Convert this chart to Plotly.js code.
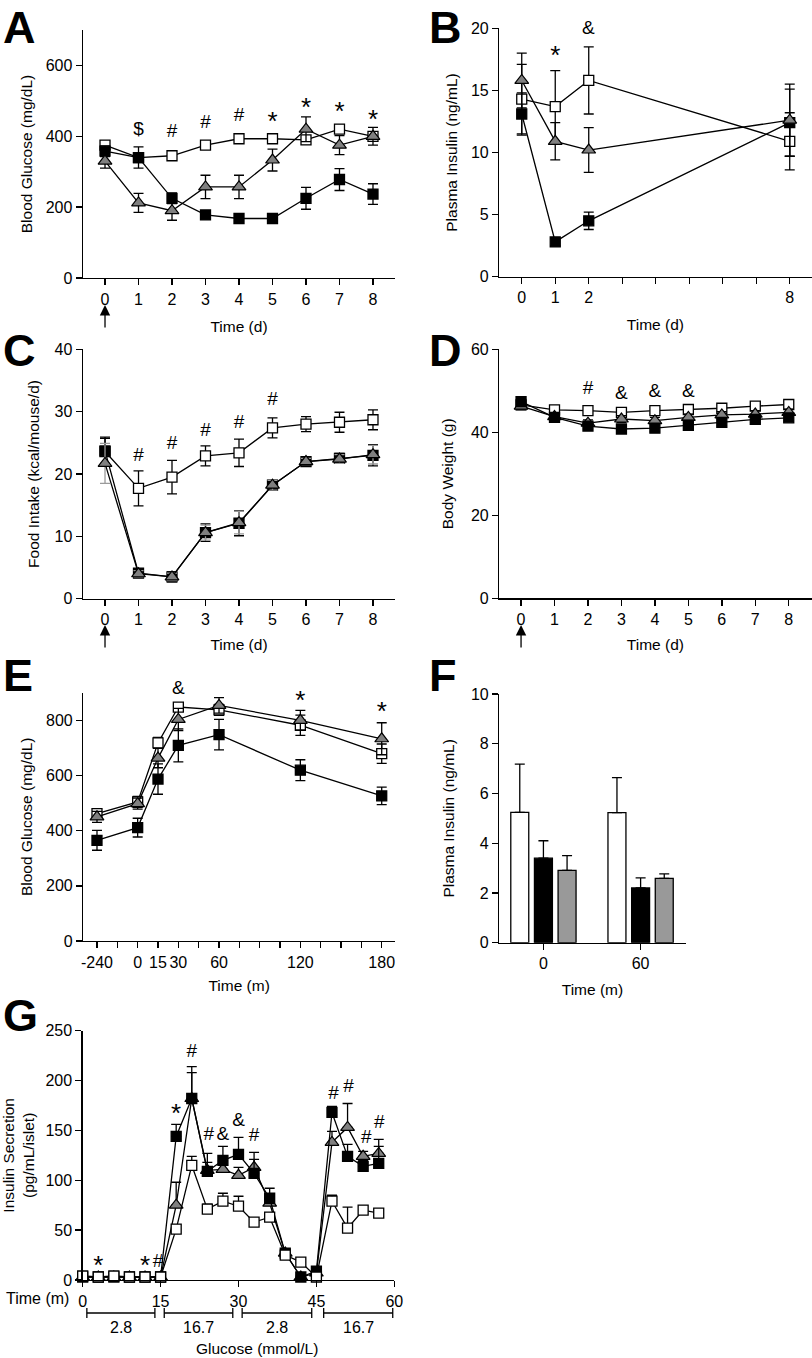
<!DOCTYPE html>
<html>
<head>
<meta charset="utf-8">
<script src="https://cdn.plot.ly/plotly-3.0.1.min.js"></script>
<style>html,body{margin:0;padding:0;background:#fff;}#chart{width:812px;height:1358px;}</style>
</head>
<body>
<div id="chart"></div>
<script>
// ---------- DATA ----------
// Panel A: blood glucose (mg/dL) by day
const daysA = [0, 1, 2, 3, 4, 5, 6, 7, 8];
const glucoseA_white = [375, 340, 345, 375, 393, 393, 390, 420, 400];
const glucoseA_whiteErr = [10, 10, 10, 10, 8, 8, 12, 12, 10];
const glucoseA_black = [358, 340, 225, 178, 168, 168, 225, 278, 237];
const glucoseA_blackErr = [15, 30, 15, 10, 8, 8, 31, 31, 29];
const glucoseA_gray = [330, 212, 190, 257, 257, 333, 420, 375, 400];
const glucoseA_grayErr = [20, 27, 27, 33, 33, 31, 35, 27, 25];
const sigA_x = [1, 2, 3, 4, 5, 6, 7, 8];
const sigA_y = [416, 411, 437, 457, 437, 476, 464, 443];
const sigA_t = ['$', '#', '#', '#', '*', '*', '*', '*'];

// Panel B: plasma insulin (ng/mL)
const daysB = [0, 1, 2, 8];
const insulinB_white = [14.3, 13.7, 15.8, 10.9];
const insulinB_whiteErr = [2.8, 2.9, 2.7, 2.3];
const insulinB_black = [13.1, 2.8, 4.5, 12.4];
const insulinB_blackErr = [1.7, 0.3, 0.7, 2.7];
const insulinB_gray = [15.8, 10.9, 10.2, 12.6];
const insulinB_grayErr = [2.2, 1.5, 1.8, 2.9];
const tickDaysB = [0, 1, 2, 3, 4, 5, 6, 7, 8];
const tickLabelsB = ['0', '1', '2', '', '', '', '', '', '8'];
const sigB_x = [1, 2];
const sigB_y = [17.66, 20.05];
const sigB_t = ['*', '&'];

// Panel C: food intake (kcal/mouse/d)
const daysC = [0, 1, 2, 3, 4, 5, 6, 7, 8];
const foodC_white = [23.6, 17.7, 19.5, 22.9, 23.4, 27.4, 28.0, 28.3, 28.7];
const foodC_whiteErr = [2.3, 2.8, 2.7, 1.6, 2.2, 1.6, 1.2, 1.6, 1.6];
const foodC_black = [23.7, 4.1, 3.5, 10.6, 12.1, 18.2, 22.0, 22.5, 23.0];
const foodC_blackErr = [2.0, 0.6, 0.8, 1.4, 2.0, 0.8, 0.5, 0.8, 1.7];
const foodC_gray = [21.7, 4.0, 3.5, 10.6, 12.2, 18.2, 22.0, 22.4, 23.1];
const foodC_grayErr = [3.2, 0.5, 0.6, 1.2, 1.8, 0.8, 0.5, 0.7, 1.5];
const sigC_x = [1, 2, 3, 4, 5];
const sigC_y = [22.9, 24.7, 26.8, 28.1, 31.8];
const sigC_t = ['#', '#', '#', '#', '#'];

// Panel D: body weight (g)
const daysD = [0, 1, 2, 3, 4, 5, 6, 7, 8];
const weightD_white = [46.6, 45.4, 45.2, 44.8, 45.2, 45.5, 45.8, 46.3, 46.7];
const weightD_black = [47.4, 43.6, 41.5, 40.8, 41.0, 41.7, 42.4, 43.1, 43.5];
const weightD_gray = [46.3, 43.8, 42.2, 43.2, 42.8, 43.6, 44.2, 44.4, 44.8];
const weightD_err = [0.8, 0.8, 0.8, 0.8, 0.8, 0.8, 0.8, 0.8, 0.8];
const sigD_x = [2, 3, 4, 5];
const sigD_y = [50.4, 49.2, 49.6, 49.6];
const sigD_t = ['#', '&', '&', '&'];

// Panel E: blood glucose during test (m)
const timesE = [-240, 0, 15, 30, 60, 120, 180];
const breakPosE = -30;           // axis position where the -240 point is shown
const tickValsE = [-30, -15, 0, 15, 30, 45, 60, 75, 90, 105, 120, 135, 150, 165, 180];
const tickLabelsE = ['-240', '', '0', '15', '30', '', '60', '', '', '', '120', '', '', '', '180'];
const glucoseE_white = [462, 504, 718, 848, 838, 782, 679];
const glucoseE_whiteErr = [15, 20, 20, 15, 20, 37, 35];
const glucoseE_black = [365, 411, 587, 709, 748, 619, 526];
const glucoseE_blackErr = [36, 34, 55, 60, 55, 38, 32];
const glucoseE_gray = [450, 498, 663, 803, 854, 800, 733];
const glucoseE_grayErr = [20, 20, 35, 40, 28, 36, 58];
const sigE_x = [30, 120, 180];
const sigE_y = [920, 864, 826];
const sigE_t = ['&', '*', '*'];

// Panel F: plasma insulin bars
const timesF = ['0', '60'];
const insulinF_white = [5.24, 5.23];
const insulinF_whiteErr = [1.94, 1.41];
const insulinF_black = [3.40, 2.20];
const insulinF_blackErr = [0.70, 0.41];
const insulinF_gray = [2.91, 2.59];
const insulinF_grayErr = [0.59, 0.18];

// Panel G: insulin secretion (pg/mL/islet)
const timesG = [0, 3, 6, 9, 12, 15, 18, 21, 24, 27, 30, 33, 36, 39, 42, 45, 48, 51, 54, 57];
const secretionG_white = [4, 3, 4, 3, 3, 3, 51, 115, 71, 79, 74, 58, 63, 25, 18, 3, 79, 52, 70, 67];
const secretionG_whiteErr = [1, 1, 1, 1, 1, 1, 4, 9, 5, 8, 10, 3, 4, 4, 3, 1, 6, 21, 4, 3];
const secretionG_black = [3, 3, 3, 3, 3, 3, 144, 182, 109, 120, 126, 107, 82, 27, 3, 9, 168, 124, 114, 117];
const secretionG_blackErr = [1, 1, 1, 1, 1, 1, 12, 32, 18, 14, 17, 21, 10, 4, 1, 2, 6, 12, 6, 17];
const secretionG_gray = [3, 3, 3, 3, 3, 3, 75, 182, 110, 111, 105, 113, 77, 27, 3, 7, 138, 153, 124, 127];
const secretionG_grayErr = [1, 1, 1, 1, 1, 1, 23, 26, 8, 8, 8, 8, 6, 4, 1, 2, 11, 24, 5, 14];
const sigG_x = [3, 12, 14.5, 18, 21, 24.3, 27, 30, 33, 48.3, 51.2, 54.6, 57.1];
const sigG_y = [12.5, 12.5, 18, 164.5, 228, 145, 145, 159, 144, 186, 193, 142, 157];
const sigG_t = ['*', '*', '#', '*', '#', '#', '&', '&', '#', '#', '#', '#', '#'];
const glucoseStart = [0.8, 15.7, 30.7, 46.4];
const glucoseEnd = [13.9, 28.9, 44.1, 59.7];
const glucoseLabel = ['2.8', '16.7', '2.8', '16.7'];

// ---------- STYLE ----------
const FONT = 'Liberation Sans, Arial, Helvetica, sans-serif';
const W = 812, H = 1358;
const PX = p => p / W;
const PY = p => 1 - p / H;

const STY = {
  white: {symbol: 'square', color: '#ffffff', size: 10, line: {color: '#000', width: 1.3}},
  black: {symbol: 'square', color: '#000000', size: 10, line: {color: '#000', width: 1.3}},
  gray: {symbol: 'triangle-up', color: '#808080', size: 12, line: {color: '#000', width: 1.2}}
};
const axName = (l, n) => l + (n === 1 ? '' : n);

function series(n, x, y, err, kind, oneSided, errColor) {
  const e = {type: 'data', array: err, visible: true, color: errColor || '#000', thickness: 1.3, width: 5};
  if (oneSided) { e.symmetric = false; e.arrayminus = err.map(() => 0); }
  return {
    type: 'scatter', mode: 'lines+markers', x: x, y: y,
    xaxis: axName('x', n), yaxis: axName('y', n),
    line: {color: '#000', width: 1.3}, marker: STY[kind], error_y: e,
    cliponaxis: false, showlegend: false, hoverinfo: 'x+y'
  };
}

// ---------- AXES ----------
function ax(o) {
  const base = {
    showline: true, linecolor: '#000', linewidth: 1.4,
    ticks: 'outside', ticklen: 6, tickwidth: 1.4, tickcolor: '#000',
    showgrid: false, zeroline: false, fixedrange: true,
    tickfont: {family: FONT, size: 16, color: '#000'}
  };
  if (o.titleText !== undefined) {
    base.title = {text: o.titleText, font: {family: FONT, size: 15.5, color: '#000'}, standoff: o.standoff};
  }
  delete o.titleText; delete o.standoff;
  return Object.assign(base, o);
}

const layout = {
  width: W, height: H, margin: {l: 0, r: 0, t: 0, b: 0},
  paper_bgcolor: '#fff', plot_bgcolor: 'rgba(0,0,0,0)',
  font: {family: FONT, color: '#000'},
  showlegend: false, barmode: 'group', bargap: 0.27, bargroupgap: 0.24,
  // A
  xaxis: ax({domain: [PX(83), PX(395)], range: [-0.657, 8.657], anchor: 'y', tickvals: daysA, titleText: 'Time (d)', standoff: 14}),
  yaxis: ax({domain: [PY(278), PY(30)], range: [0, 700], anchor: 'x', dtick: 200, titleText: 'Blood Glucose (mg/dL)', standoff: 9}),
  // B
  xaxis2: ax({domain: [PX(499.3), PX(811.5)], range: [-0.67, 8.65], anchor: 'y2', tickvals: tickDaysB, ticktext: tickLabelsB, titleText: 'Time (d)', standoff: 14}),
  yaxis2: ax({domain: [PY(276.7), PY(28.3)], range: [0, 20], anchor: 'x2', dtick: 5, titleText: 'Plasma Insulin (ng/mL)', standoff: 9}),
  // C
  xaxis3: ax({domain: [PX(83), PX(395)], range: [-0.657, 8.657], anchor: 'y3', tickvals: daysC, titleText: 'Time (d)', standoff: 12}),
  yaxis3: ax({domain: [PY(598.7), PY(349.3)], range: [0, 40], anchor: 'x3', dtick: 10, titleText: 'Food Intake (kcal/mouse/d)', standoff: 11}),
  // D
  xaxis4: ax({domain: [PX(499.3), PX(811.5)], range: [-0.65, 8.68], anchor: 'y4', tickvals: daysD, titleText: 'Time (d)', standoff: 12}),
  yaxis4: ax({domain: [PY(598.3), PY(349.3)], range: [0, 60], anchor: 'x4', dtick: 20, titleText: 'Body Weight (g)', standoff: 13}),
  // E
  xaxis5: ax({domain: [PX(83.3), PX(395)], range: [-40.1, 189.8], anchor: 'y5', tickvals: tickValsE, ticktext: tickLabelsE, titleText: 'Time (m)', standoff: 10}),
  yaxis5: ax({domain: [PY(941), PY(692.7)], range: [0, 900], anchor: 'x5', tickvals: [0, 200, 400, 600, 800], titleText: 'Blood Glucose (mg/dL)', standoff: 9}),
  // F
  xaxis6: ax({domain: [PX(499.3), PX(685.7)], range: [-0.454, 1.464], anchor: 'y6', type: 'category', titleText: 'Time (m)', standoff: 13}),
  yaxis6: ax({domain: [PY(942.7), PY(694)], range: [0, 10], anchor: 'x6', dtick: 2, titleText: 'Plasma Insulin (ng/mL)', standoff: 12}),
  // G
  xaxis7: ax({domain: [PX(82.7), PX(394.3)], range: [0, 60], anchor: 'y7', dtick: 15}),
  yaxis7: ax({domain: [PY(1280), PY(1030.7)], range: [0, 250], anchor: 'x7', dtick: 50, titleText: 'Insulin Secretion<br>(pg/mL/islet)', standoff: 14}),
  annotations: [], shapes: []
};

// significance marks: text trace for marks inside the axis range,
// annotation on the axis domain for marks drawn above the top of the axis
function sigMarks(n, xs, ys, ts) {
  const yax = layout[axName('yaxis', n)];
  const r = yax.range;
  const inX = [], inY = [], inT = [];
  xs.forEach((x, i) => {
    if (ys[i] <= r[1]) { inX.push(x); inY.push(ys[i]); inT.push(ts[i]); }
    else {
      layout.annotations.push({
        text: ts[i], x: x, xref: axName('x', n), y: (ys[i] - r[0]) / (r[1] - r[0]), yref: axName('y', n) + ' domain',
        xanchor: 'center', yanchor: 'middle', showarrow: false,
        font: {family: FONT, size: ts[i] === '*' ? 26 : 19, color: '#000'}
      });
    }
  });
  return {
    type: 'scatter', mode: 'text', x: inX, y: inY, text: inT,
    xaxis: axName('x', n), yaxis: axName('y', n),
    textposition: 'middle center',
    textfont: {family: FONT, color: '#000', size: inT.map(t => t === '*' ? 26 : 19)},
    cliponaxis: false, showlegend: false, hoverinfo: 'skip'
  };
}

const traces = [];
// A
traces.push(series(1, daysA, glucoseA_white, glucoseA_whiteErr, 'white'));
traces.push(series(1, daysA, glucoseA_black, glucoseA_blackErr, 'black'));
traces.push(series(1, daysA, glucoseA_gray, glucoseA_grayErr, 'gray'));
traces.push(sigMarks(1, sigA_x, sigA_y, sigA_t));
// B
traces.push(series(2, daysB, insulinB_white, insulinB_whiteErr, 'white'));
traces.push(series(2, daysB, insulinB_black, insulinB_blackErr, 'black'));
traces.push(series(2, daysB, insulinB_gray, insulinB_grayErr, 'gray'));
traces.push(sigMarks(2, sigB_x, sigB_y, sigB_t));
// C
traces.push(series(3, daysC, foodC_white, foodC_whiteErr, 'white'));
traces.push(series(3, daysC, foodC_black, foodC_blackErr, 'black'));
traces.push(series(3, daysC, foodC_gray, foodC_grayErr, 'gray', false, '#9a9a9a'));
traces.push(sigMarks(3, sigC_x, sigC_y, sigC_t));
// D
traces.push(series(4, daysD, weightD_white, weightD_err, 'white'));
traces.push(series(4, daysD, weightD_gray, weightD_err, 'gray'));
traces.push(series(4, daysD, weightD_black, weightD_err, 'black'));
traces.push(sigMarks(4, sigD_x, sigD_y, sigD_t));
// E
const posE = timesE.map(t => t < 0 ? breakPosE : t);
traces.push(series(5, posE, glucoseE_black, glucoseE_blackErr, 'black'));
traces.push(series(5, posE, glucoseE_white, glucoseE_whiteErr, 'white'));
traces.push(series(5, posE, glucoseE_gray, glucoseE_grayErr, 'gray'));
traces.push(sigMarks(5, sigE_x, sigE_y, sigE_t));
// F bars
function bar(y, err, color) {
  return {
    type: 'bar', x: timesF, y: y, xaxis: 'x6', yaxis: 'y6',
    marker: {color: color, line: {color: '#000', width: 1.3}},
    error_y: {type: 'data', symmetric: false, array: err, arrayminus: err.map(() => 0), color: '#000', thickness: 1.3, width: 5},
    showlegend: false, hoverinfo: 'x+y'
  };
}
traces.push(bar(insulinF_white, insulinF_whiteErr, '#ffffff'));
traces.push(bar(insulinF_black, insulinF_blackErr, '#000000'));
traces.push(bar(insulinF_gray, insulinF_grayErr, '#999999'));
// G
traces.push(series(7, timesG, secretionG_gray, secretionG_grayErr, 'gray', true));
traces.push(series(7, timesG, secretionG_black, secretionG_blackErr, 'black', true));
traces.push(series(7, timesG, secretionG_white, secretionG_whiteErr, 'white', true));
traces.push(sigMarks(7, sigG_x, sigG_y, sigG_t));

// panel letters (box top given in px)
const letters = [['A', 1, 0], ['B', 427, 0], ['C', 1, 322.5], ['D', 427, 322.5], ['E', 1, 647.5], ['F', 427, 647.5], ['G', 1, 987.5]];
letters.forEach(l => layout.annotations.push({
  text: '<b>' + l[0] + '</b>', xref: 'paper', yref: 'paper', x: PX(l[1]), y: PY(l[2]),
  xanchor: 'left', yanchor: 'top', showarrow: false, font: {family: FONT, size: 45, color: '#000'}
}));

// treatment arrows under day 0
[['x', 305], ['x3', 625], ['x4', 625]].forEach(a => layout.annotations.push({
  text: '', x: 0, xref: a[0], y: PY(a[1]), yref: 'paper', showarrow: true,
  ax: 0, ay: 24, arrowhead: 2, arrowsize: 1.6, arrowwidth: 1.3, arrowcolor: '#000', standoff: 0
}));

// panel G extra labels
layout.annotations.push({text: 'Time (m)', xref: 'paper', yref: 'paper', x: PX(37), y: PY(1298),
  xanchor: 'center', yanchor: 'middle', showarrow: false, font: {family: FONT, size: 16, color: '#000'}});
layout.annotations.push({text: 'Glucose (mmol/L)', xref: 'paper', yref: 'paper', x: PX(257), y: PY(1348),
  xanchor: 'center', yanchor: 'middle', showarrow: false, font: {family: FONT, size: 15.5, color: '#000'}});
glucoseStart.forEach((s, i) => {
  const e = glucoseEnd[i];
  layout.shapes.push({type: 'line', xref: 'x7', yref: 'paper', x0: s, x1: e, y0: PY(1313), y1: PY(1313), line: {color: '#000', width: 1.3}});
  layout.shapes.push({type: 'line', xref: 'x7', yref: 'paper', x0: s, x1: s, y0: PY(1308), y1: PY(1318), line: {color: '#000', width: 1.3}});
  layout.shapes.push({type: 'line', xref: 'x7', yref: 'paper', x0: e, x1: e, y0: PY(1308), y1: PY(1318), line: {color: '#000', width: 1.3}});
  layout.annotations.push({text: glucoseLabel[i], xref: 'x7', yref: 'paper', x: (s + e) / 2, y: PY(1327),
    xanchor: 'center', yanchor: 'middle', showarrow: false, font: {family: FONT, size: 16, color: '#000'}});
});

Plotly.newPlot('chart', traces, layout, {staticPlot: true, displayModeBar: false});
</script>
</body>
</html>
